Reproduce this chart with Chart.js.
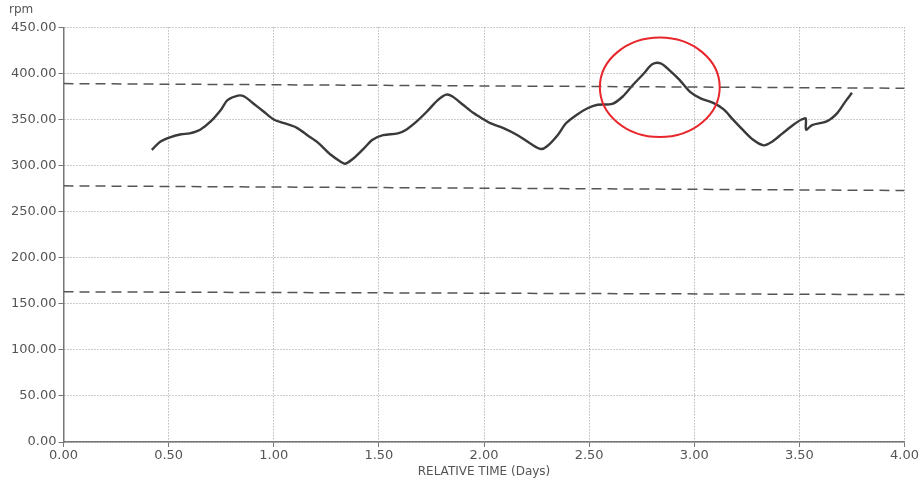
<!DOCTYPE html>
<html>
<head>
<meta charset="utf-8">
<script src="https://cdn.jsdelivr.net/npm/chart.js@4"></script>
<style>
  html, body { margin: 0; padding: 0; background: #fff; }
  #wrap { width: 920px; height: 483px; }
</style>
</head>
<body>
<div id="wrap"><canvas id="chart-rpm"></canvas></div>
<script>
// trace (days, rpm)
const days = [0.42, 0.46, 0.51, 0.56, 0.60, 0.65, 0.70, 0.75, 0.78, 0.83, 0.86, 0.90, 0.95, 1.00,
  1.05, 1.11, 1.16, 1.21, 1.27, 1.32, 1.34, 1.38, 1.43, 1.47, 1.52, 1.59, 1.63, 1.68, 1.73,
  1.78, 1.82, 1.85, 1.90, 1.95, 2.00, 2.03, 2.09, 2.16, 2.22, 2.27, 2.30, 2.35, 2.39, 2.44,
  2.49, 2.54, 2.61, 2.66, 2.71, 2.76, 2.80, 2.84, 2.88, 2.93, 2.98, 3.03, 3.09, 3.14, 3.18,
  3.23, 3.28, 3.33, 3.37, 3.42, 3.47, 3.51, 3.53, 3.532, 3.56, 3.63, 3.68, 3.72, 3.75];
const rpm = [317, 326, 331, 334, 335, 339, 348, 361, 371, 376, 375, 368, 359, 350,
  346, 341, 333, 325, 312, 304, 302, 308, 319, 328, 333, 335, 339, 348, 359,
  371, 377, 375, 366, 357, 350, 346, 341, 333, 324, 318, 321, 333, 346, 355,
  362, 366, 367, 375, 388, 400, 410, 411, 404, 393, 380, 373, 368, 361, 351,
  339, 328, 322, 326, 335, 344, 350, 351, 339, 344, 348, 357, 370, 379];

// dashed reference lines (value at 0 days, value at 4 days)
const upperLimit = [389, 384];
const midLimit = [278, 273];
const lowerLimit = [163, 160];

const xTicks = [0, 4, 0.5];   // min, max, step
const yTicks = [0, 450, 50];

// red circle around the peak: centre (days, rpm), radii (days, rpm)
const mark = [2.836, 385, 0.285, 54];

const limitLine = (vals) => ({
  data: [{ x: xTicks[0], y: vals[0] }, { x: xTicks[1], y: vals[1] }],
  showLine: true,
  borderColor: "#555",
  borderWidth: 1.5,
  borderDash: [10, 6],
  pointRadius: 0,
});

const circlePlugin = {
  id: "circle",
  afterDatasetsDraw(chart) {
    const { ctx, scales } = chart;
    const cx = scales.x.getPixelForValue(mark[0]);
    const cy = scales.y.getPixelForValue(mark[1]);
    const rx = scales.x.getPixelForValue(mark[0] + mark[2]) - cx;
    const ry = cy - scales.y.getPixelForValue(mark[1] + mark[3]);
    ctx.save();
    ctx.strokeStyle = "#e8262b";
    ctx.lineWidth = 2;
    ctx.beginPath();
    ctx.ellipse(cx, cy, rx, ry, 0, 0, Math.PI * 2);
    ctx.stroke();
    ctx.restore();
  },
};

const gridOpts = {
  color: "#999",
  lineWidth: 1,
  tickLength: 5,
  tickColor: "#777",
};

new Chart(document.getElementById("chart-rpm"), {
  type: "scatter",
  data: {
    datasets: [
      limitLine(upperLimit),
      limitLine(midLimit),
      limitLine(lowerLimit),
      {
        data: days.map((d, i) => ({ x: d, y: rpm[i] })),
        showLine: true,
        borderColor: "#3a3a3a",
        borderWidth: 2.4,
        pointRadius: 0,
        tension: 0.3,
      },
    ],
  },
  options: {
    responsive: true,
    maintainAspectRatio: false,
    animation: false,
    layout: { padding: { left: 9, right: 4, top: 0, bottom: 4 } },
    plugins: {
      legend: { display: false },
      tooltip: { enabled: false },
      title: {
        display: true,
        text: "rpm",
        align: "start",
        color: "#555",
        font: { family: "DejaVu Sans", size: 12, weight: "normal" },
        padding: { top: 3, bottom: 10 },
      },
    },
    scales: {
      x: {
        type: "linear",
        min: xTicks[0],
        max: xTicks[1],
        ticks: {
          stepSize: xTicks[2],
          color: "#555",
          font: { family: "DejaVu Sans", size: 13 },
          padding: 1,
          maxRotation: 0,
          callback: (v) => v.toFixed(2),
        },
        grid: gridOpts,
        border: { color: "#777", width: 1.5, dash: [1, 2] },
        title: {
          display: true,
          text: "RELATIVE TIME (Days)",
          color: "#555",
          font: { family: "DejaVu Sans", size: 12 },
          padding: { top: 0, bottom: 0 },
        },
      },
      y: {
        min: yTicks[0],
        max: yTicks[1],
        ticks: {
          stepSize: yTicks[2],
          color: "#555",
          font: { family: "DejaVu Sans", size: 13 },
          padding: 2,
          callback: (v) => v.toFixed(2),
        },
        grid: gridOpts,
        border: { color: "#777", width: 1.5, dash: [1, 2] },
      },
    },
  },
  plugins: [circlePlugin],
});
</script>
</body>
</html>
